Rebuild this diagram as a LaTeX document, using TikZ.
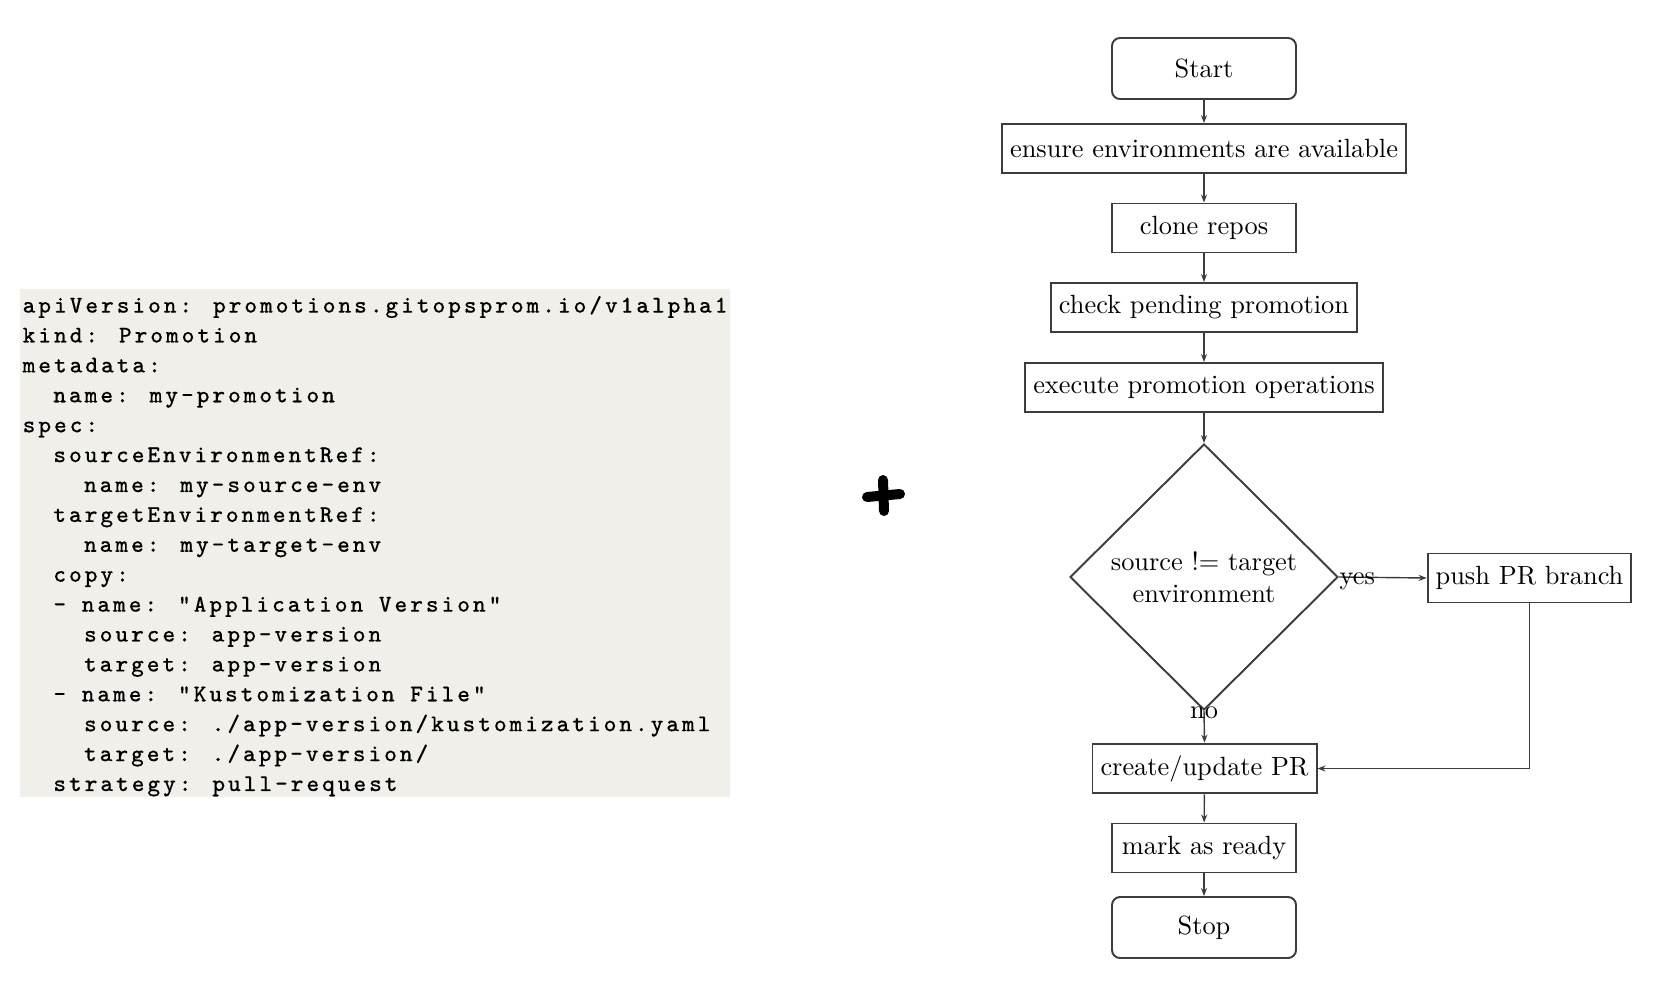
\documentclass[tikz,border=0pt]{standalone}
\usepackage{fontspec}
\usepackage{tikz}
\usetikzlibrary{shapes.geometric,arrows.meta,positioning}
\newfontfamily\codefont{lmmono8-regular.otf}[LetterSpace=12.5,FakeBold=0.4]
\newfontfamily\chartfont{lmroman10-regular.otf}
\definecolor{codebg}{RGB}{240,239,233}
\definecolor{boxline}{RGB}{60,60,60}

\tikzset{
    codeline/.style={anchor=mid west, inner sep=0pt, font=\codefont\fontsize{6.8}{8}\selectfont},
    flowfont/.style={font=\chartfont\fontsize{7.5}{9}\selectfont},
    startstop/.style={flowfont, draw=boxline, line width=0.55pt, rounded corners=0.8mm, minimum width=18.4mm, minimum height=6.1mm},
    process/.style={flowfont, draw=boxline, line width=0.55pt, minimum width=18.4mm, minimum height=4.9mm, inner xsep=0.8mm},
    decision/.style={flowfont, diamond, draw=boxline, line width=0.55pt, minimum width=26.8mm, minimum height=26.6mm, align=center, inner sep=0pt},
    flowarrow/.style={->, line width=0.4pt, draw=boxline}
}

\begin{document}
\begin{tikzpicture}[x=0.1mm, y=-0.1mm, >={Stealth[length=0.8mm,width=0.6mm]}]
    \useasboundingbox (0,0) rectangle (1673,992);

    % Promotion manifest on left
    \fill[codebg] (20,289) rectangle (730,797);
    \foreach \ind/\txt [count=\i from 0] in {
        0/{apiVersion: promotions.gitopsprom.io/v1alpha1},
        0/{kind: Promotion},
        0/{metadata:},
        2/{name: my-promotion},
        0/{spec:},
        2/{sourceEnvironmentRef:},
        4/{name: my-source-env},
        2/{targetEnvironmentRef:},
        4/{name: my-target-env},
        2/{copy:},
        2/{- name: "Application Version"},
        4/{source: app-version},
        4/{target: app-version},
        2/{- name: "Kustomization File"},
        4/{source: ./app-version/kustomization.yaml},
        4/{target: ./app-version/},
        2/{strategy: pull-request}} {
        \node[codeline] (l\i) at (22+\ind*15.35, 305+\i*29.9) {\txt};
    }

    % plus sign
    \draw[line width=1mm, line cap=round] (867,497) -- (900,494);
    \draw[line width=1mm, line cap=round] (883,480) -- (884,511);

    % Flowchart on right
    \node[startstop] (start) at (1204,68.5) {Start};
    \node[process] (ensure) at (1204,148.5) {ensure environments are available};
    \node[process] (clone) at (1204,228) {clone repos};
    \node[process] (pending) at (1204,307.5) {check pending promotion};
    \node[process] (execute) at (1204,387.5) {execute promotion operations};
    \node[decision] (decide) at (1204,577) {source != target\\environment};
    \node[process] (push) at (1529.5,578) {push PR branch};
    \node[process] (prupdate) at (1204.5,768.5) {create/update PR};
    \node[process] (ready) at (1204,848) {mark as ready};
    \node[startstop] (stop) at (1204,927.5) {Stop};

    \foreach \a/\b in {start/ensure, ensure/clone, clone/pending, pending/execute, execute/decide, prupdate/ready, ready/stop}
        \draw[flowarrow] (\a) -- (\b);
    \draw[flowarrow] (decide.east) -- node[flowfont, pos=0, anchor=mid west, inner sep=0pt] {yes} (push.west);
    \draw[flowarrow] (decide.south) -- node[flowfont, pos=0, anchor=mid, inner sep=0pt] {no} (prupdate.north);
    \draw[flowarrow] (push) |- (prupdate);
\end{tikzpicture}
\end{document}
